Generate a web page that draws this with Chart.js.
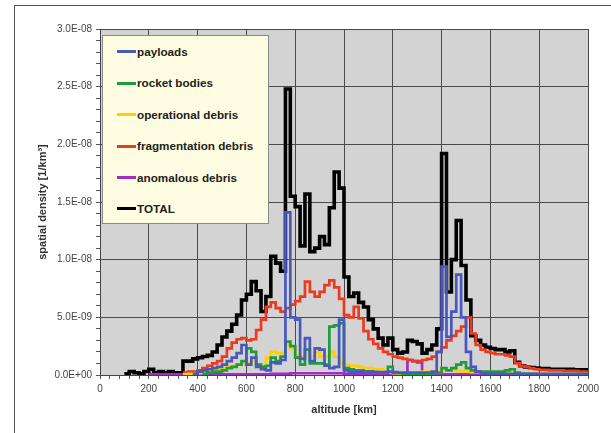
<!DOCTYPE html>
<html>
<head>
<meta charset="utf-8">
<script src="https://cdn.jsdelivr.net/npm/chart.js@4.4.1/dist/chart.umd.min.js"></script>
<style>
  html, body { margin: 0; padding: 0; background: #fff; }
  #wrap { position: relative; width: 611px; height: 433px; overflow: hidden; }
  #frame { position: absolute; left: 14px; top: 5px; width: 700px; height: 500px; border-left: 1px solid #555; border-top: 1px solid #555; }
  #chart { position: absolute; left: 0; top: 0; }
  #legend { position: absolute; left: 102px; top: 35px; width: 165px; height: 187px; background: #FFFDE1; border: 1px solid #8a8a8a; }
  .item { position: absolute; left: 14px; height: 14px; font: bold 11.7px "Liberation Sans", Arial, sans-serif; color: #222; line-height: 14px; white-space: nowrap; }
  .item i { display: inline-block; width: 19px; height: 3px; vertical-align: middle; margin-right: 1px; position: relative; top: -1px; }
</style>
</head>
<body>
<div id="wrap">
  <div id="frame"></div>
  <canvas id="chart" width="611" height="433"></canvas>
  <div id="legend"></div>
</div>
<script>
// altitude bins, km (start of each 20 km bin, last entry closes the line)
const altitude = [
  0, 20, 40, 60, 80, 100, 120, 140, 160, 180,
  200, 220, 240, 260, 280, 300, 320, 340, 360, 380,
  400, 420, 440, 460, 480, 500, 520, 540, 560, 580,
  600, 620, 640, 660, 680, 700, 720, 740, 760, 780,
  800, 820, 840, 860, 880, 900, 920, 940, 960, 980,
  1000, 1020, 1040, 1060, 1080, 1100, 1120, 1140, 1160, 1180,
  1200, 1220, 1240, 1260, 1280, 1300, 1320, 1340, 1360, 1380,
  1400, 1420, 1440, 1460, 1480, 1500, 1520, 1540, 1560, 1580,
  1600, 1620, 1640, 1660, 1680, 1700, 1720, 1740, 1760, 1780,
  1800, 1820, 1840, 1860, 1880, 1900, 1920, 1940, 1960, 1980,
  2000
];

// spatial density in units of 1E-09 per km^3
const payloads = [
  null, null, null, null, null, null, null, null, null, null,
  null, null, null, null, null, null, null, null, null, 0.1,
  0.3, 0.4, 0.5, 0.6, 0.7, 0.9, 1.2, 1.5, 1.9, 2.6,
  0.9, 1.5, 0.7, 0.5, 0.4, 1.1, 1.0, 1.3, 14.1, 5.0,
  4.8, 1.4, 3.2, 1.2, 2.3, 2.2, 0.8, 0.6, 0.7, 4.8,
  0.4, 0.3, 0.3, 0.3, 0.3, 0.3, 0.25, 0.25, 0.25, 0.3,
  0.25, 0.2, 0.2, 0.2, 0.2, 0.2, 0.2, 0.2, 0.3, 2.0,
  9.4, 3.3, 5.5, 8.7, 5.0, 2.0, 0.7, 0.3, 0.15, 0.1,
  0.1, 0.1, 0.1, 0.1, 0.1, 0.1, 0.1, 0.1, 0.1, 0.1,
  0.1, 0.1, 0.1, 0.1, 0.1, 0.1, 0.1, 0.1, 0.1, 0.1,
  0.1
];

const rocketBodies = [
  null, null, null, null, null, null, null, null, null, null,
  null, null, null, null, null, null, null, null, null, null,
  null, 0.1, 0.2, 0.3, 0.3, 0.4, 0.6, 0.7, 0.9, 1.2,
  2.3, 2.0, 0.9, 0.7, 0.8, 1.5, 1.2, 1.6, 2.9, 2.5,
  1.5, 0.9, 2.2, 1.0, 1.0, 1.0, 0.9, 4.2, 4.3, 4.5,
  0.6, 0.5, 0.4, 0.4, 0.3, 0.3, 0.25, 0.2, 0.2, 0.7,
  0.2, 0.15, 0.1, 0.1, 0.1, 0.1, 0.1, 0.1, 0.15, 0.2,
  0.6, 0.4, 0.6, 0.9, 1.1, 0.6, 0.4, 0.3, 0.3, 0.3,
  0.3, 0.3, 0.3, 0.4, 0.5, 0.2, 0.1, 0.1, 0.1, 0.1,
  0.05, 0.05, 0.05, 0.05, 0.05, 0.05, 0.05, 0.05, 0.05, 0.05,
  0.05
];

const operationalDebris = [
  null, null, null, null, null, null, null, null, null, null,
  null, null, null, null, null, null, null, 0.05, 0.1, 0.1,
  0.15, 0.2, 0.3, 0.4, 0.5, 0.6, 0.7, 0.8, 0.9, 0.9,
  1.0, 1.3, 0.9, 0.5, 1.5, 2.0, 1.9, 1.9, 2.6, 2.3,
  1.7, 1.6, 2.2, 1.6, 2.0, 1.6, 1.6, 2.0, 1.6, 1.0,
  0.9, 0.8, 0.8, 0.7, 0.6, 0.6, 0.5, 0.5, 0.3, 0.2,
  0.15, 0.1, 0.05, 0.05, 0.0, 0.0, 0.3, 0.3, 0.3, 0.35,
  0.4, 0.4, 0.4, 0.35, 0.3, 0.3, 0.25, 0.25, 0.25, 0.25,
  0.25, 0.25, 0.2, 0.2, 0.2, 0.1, 0.1, 0.1, 0.1, 0.1,
  0.1, 0.1, 0.1, 0.1, 0.1, 0.1, 0.1, 0.1, 0.1, 0.1,
  0.1
];

const fragmentationDebris = [
  null, null, null, null, null, null, null, null, null, null,
  null, null, null, null, null, null, null, 0.2, 0.3, 0.3,
  0.4, 0.6, 0.8, 1.0, 1.2, 1.6, 2.3, 2.8, 3.1, 3.2,
  3.0, 3.1, 3.9, 4.8, 5.9, 6.3, 5.8, 5.5, 5.8, 6.1,
  6.4, 6.8, 8.1, 7.2, 6.8, 7.2, 7.8, 8.2, 7.6, 6.6,
  5.2, 5.0, 5.9, 4.9, 3.8, 3.1, 2.7, 2.3, 2.0, 1.8,
  1.6, 1.5, 1.4, 1.3, 1.2, 1.2, 1.3, 1.4, 1.6, 2.0,
  2.4, 3.0, 3.4, 3.8, 4.2, 5.0, 3.6, 2.6, 2.2, 2.0,
  1.9, 1.8, 1.8, 1.7, 1.6, 1.0, 0.8, 0.7, 0.6, 0.5,
  0.45, 0.45, 0.4, 0.4, 0.4, 0.35, 0.35, 0.35, 0.3, 0.3,
  0.3
];

const anomalousDebris = [
  null, null, null, null, null, null, null, null, null, null,
  0.05, 0.05, 0.05, 0.05, 0.05, 0.05, 0.05, 0.05, 0.05, 0.05,
  0.05, 0.05, 0.05, 0.05, 0.05, 0.05, 0.05, 0.05, 0.05, 0.05,
  0.05, 0.05, 0.05, 0.05, 0.05, 0.1, 0.1, 0.1, 0.1, 0.15,
  0.15, 0.15, 0.15, 0.15, 0.15, 0.15, 0.15, 0.15, 0.15, 0.15,
  0.1, 0.1, 0.1, 0.1, 0.1, 0.1, 0.05, 0.05, 0.05, 0.05,
  0.05, 0.05, 0.05, 1.3, 1.2, 1.1, 0.05, 0.05, 0.05, 0.05,
  0.05, 0.05, 0.05, 0.05, 0.05, 0.05, 0.05, 0.05, 0.05, 0.05,
  0.05, 0.05, 0.05, 0.05, 0.05, 0.05, 0.05, 0.05, 0.05, 0.05,
  0.05, 0.05, 0.05, 0.05, 0.05, 0.05, 0.05, 0.05, 0.05, 0.05,
  0.05
];

const total = [
  null, null, null, null, null, 0.1, 0.3, 0.2, 0.1, 0.3,
  0.5, 0.2, 0.3, 0.2, 0.3, 0.2, 0.2, 1.2, 1.2, 1.4,
  1.5, 1.6, 1.7, 2.0, 2.6, 3.3, 3.8, 4.4, 5.2, 6.5,
  7.0, 8.1, 7.3, 5.5, 6.8, 10.3, 9.7, 9.0, 24.8, 15.5,
  14.6, 11.2, 15.7, 10.7, 11.0, 12.0, 11.3, 14.5, 17.6, 16.2,
  8.5, 6.8, 7.1, 6.3, 5.9, 4.8, 4.0, 3.2, 2.6, 3.2,
  2.2, 1.9, 2.0, 3.0, 2.9, 2.7, 1.9, 2.2, 2.6, 4.0,
  19.2, 7.2, 10.0, 13.4, 9.5, 6.5, 3.4, 3.0, 2.6, 2.4,
  2.3, 2.2, 2.2, 2.0, 2.1, 1.1, 0.8, 0.7, 0.65, 0.6,
  0.55, 0.55, 0.5, 0.5, 0.5, 0.5, 0.5, 0.45, 0.45, 0.45,
  0.45
];

const seriesNames = ['payloads', 'rocket bodies', 'operational debris', 'fragmentation debris', 'anomalous debris', 'TOTAL'];
const seriesColors = ['#4858BC', '#1C9C3A', '#FFD000', '#EC3A1E', '#A32CC4', '#000000'];
const seriesData = [payloads, rocketBodies, operationalDebris, fragmentationDebris, anomalousDebris, total];
const yTickLabels = ['0.0E+00', '5.0E-09', '1.0E-08', '1.5E-08', '2.0E-08', '2.5E-08', '3.0E-08'];

// grey plot background
const plotBackground = {
  id: 'plotBackground',
  beforeDraw(chart) {
    const { ctx, chartArea: a } = chart;
    ctx.save();
    ctx.fillStyle = '#D3D3D3';
    ctx.fillRect(a.left, a.top, a.right - a.left, a.bottom - a.top);
    ctx.restore();
  }
};

// each value holds from its own bin start up to the next one
const datasets = seriesData.map((vals, i) => ({
  label: seriesNames[i],
  data: vals.map((v, k) => ({ x: altitude[k], y: v })),
  borderColor: seriesColors[i],
  backgroundColor: seriesColors[i],
  borderWidth: i === 5 ? 3.6 : 2.7,
  stepped: 'before',
  pointRadius: 0,
  fill: false,
  spanGaps: false
}));

new Chart(document.getElementById('chart'), {
  type: 'line',
  data: { datasets: datasets },
  options: {
    responsive: false,
    animation: false,
    layout: { padding: { left: 0, right: 23, top: 29, bottom: 0 } },
    plugins: { legend: { display: false }, tooltip: { enabled: false } },
    scales: {
      x: {
        type: 'linear',
        min: 0,
        max: 2000,
        afterFit(scale) { scale.height = 58; },
        ticks: {
          stepSize: 40,
          autoSkip: false,
          maxRotation: 0,
          color: '#444',
          padding: 4,
          font: { family: '"Liberation Sans", Arial, sans-serif', size: 10 },
          callback: v => (v % 200 === 0 ? String(v) : '')
        },
        grid: {
          color: c => (c.tick && c.tick.value % 200 === 0 ? '#4a4a4a' : 'rgba(0,0,0,0)'),
          tickColor: '#555',
          tickLength: 4,
          lineWidth: 1
        },
        border: { color: '#444', width: 1 },
        title: {
          display: true,
          text: 'altitude [km]',
          color: '#333',
          font: { family: '"Liberation Sans", Arial, sans-serif', size: 11, weight: 'bold' },
          padding: { top: 0, bottom: 16 }
        }
      },
      y: {
        min: 0,
        max: 30,
        afterFit(scale) { scale.width = 100; },
        ticks: {
          stepSize: 1,
          autoSkip: false,
          color: '#444',
          padding: 4,
          font: { family: '"Liberation Sans", Arial, sans-serif', size: 10 },
          callback: v => (v % 5 === 0 ? yTickLabels[v / 5] : '')
        },
        grid: {
          color: c => (c.tick && c.tick.value % 5 === 0 ? '#4a4a4a' : 'rgba(0,0,0,0)'),
          tickColor: '#555',
          tickLength: 4,
          lineWidth: 1
        },
        border: { color: '#444', width: 1 },
        title: {
          display: true,
          text: 'spatial density [1/km³]',
          color: '#333',
          font: { family: '"Liberation Sans", Arial, sans-serif', size: 11, weight: 'bold' },
          padding: { top: 36, bottom: 0 }
        }
      }
    }
  },
  plugins: [plotBackground]
});

// legend box inside the plot, like the original
const legend = document.getElementById('legend');
seriesNames.forEach((name, i) => {
  const row = document.createElement('div');
  row.className = 'item';
  row.style.top = (9 + i * 31.4) + 'px';
  row.innerHTML = '<i style="background:' + seriesColors[i] + '"></i>' + name;
  legend.appendChild(row);
});
</script>
</body>
</html>
